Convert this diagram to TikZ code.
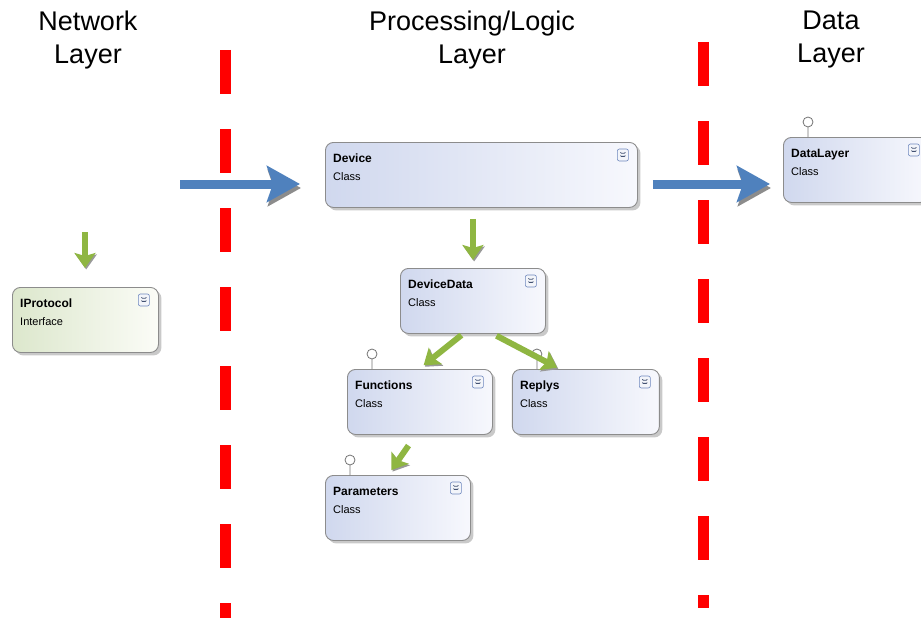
\documentclass[tikz,border=0pt]{standalone}
\usepackage{fontspec}
\setmainfont{Liberation Sans}
\usetikzlibrary{arrows.meta, positioning, shadows}

\definecolor{classleft}{RGB}{208,216,238}
\definecolor{classright}{RGB}{247,248,253}
\definecolor{ifaceleft}{RGB}{220,231,204}
\definecolor{ifaceright}{RGB}{251,252,247}
\definecolor{boxborder}{RGB}{140,140,140}
\definecolor{iconblue}{RGB}{110,135,190}
\definecolor{flowblue}{RGB}{79,129,189}
\definecolor{depgreen}{RGB}{143,182,66}
\definecolor{layerred}{RGB}{255,0,0}

\tikzset{
  classbox/.style = {rectangle, rounded corners=8pt, draw=boxborder, line width=0.9pt, minimum width=145pt, minimum height=65pt, inner sep=0pt, anchor=north west, left color=classleft, right color=classright, drop shadow={shadow xshift=3pt, shadow yshift=-3pt, opacity=0.3, fill=black!70}},
  ifacebox/.style = {classbox, left color=ifaceleft, right color=ifaceright},
  boxtext/.style = {anchor=north west, align=left, inner sep=0pt, font=\fontsize{11}{18}\selectfont},
  expander/.style = {rectangle, rounded corners=2pt, draw=iconblue, line width=0.6pt, fill=iconblue!8, minimum width=11pt, minimum height=12pt, inner sep=0pt,
    path picture={
      \draw[iconblue!60!black, line width=0.8pt] ([shift={(-2.5pt,2.6pt)}]path picture bounding box.center) -- ++(2.5pt,-2pt) -- ++(2.5pt,2pt);
      \draw[iconblue!60!black, line width=0.8pt] ([shift={(-2.5pt,-0.6pt)}]path picture bounding box.center) -- ++(2.5pt,-2pt) -- ++(2.5pt,2pt);
    }},
  lollipop/.style = {draw=black!55, line width=0.8pt, fill=white},
  layerline/.style = {draw=layerred, line width=11pt, dash pattern=on 44pt off 35pt},
  heading/.style = {align=center, anchor=north, inner sep=0pt, font=\fontsize{27}{33}\selectfont},
  flow/.style = {draw=flowblue, line width=9pt, -{Stealth[length=33pt, width=36pt, inset=6pt]},
    preaction={draw=black!45, transform canvas={shift={(1pt,-4pt)}}}},
  dep/.style = {draw=depgreen, line width=6pt, -{Stealth[length=15pt, width=21pt, inset=3pt]},
    preaction={draw=black!40, transform canvas={shift={(1.2pt,-1.5pt)}}}}
}

\begin{document}
\begin{tikzpicture}[x=1pt, y=-1pt]
\useasboundingbox (0,0) rectangle (921,618);
\clip (0,0) rectangle (921,618);

% Layer headings
\node[heading] (net-head) at (88,11) {Network\\Layer};
\node[heading] (logic-head) at (472,11) {Processing/Logic\\Layer};
\node[heading] (data-head) at (831,11) {Data\\Layer};

% Layer borders
\coordinate (leftcut-top) at (225.5,50);
\coordinate (leftcut-bot) at (225.5,618);
\coordinate (rightcut-top) at (703,42);
\coordinate (rightcut-bot) at (703,608);
\draw[layerline] (leftcut-top) -- (leftcut-bot);
\draw[layerline] (rightcut-top) -- (rightcut-bot);

% Classes
\node[classbox, minimum width=312pt] (device) at (325,142) {};
\node[classbox] (datalayer) at (783,137) {};
\node[ifacebox, minimum width=146pt] (iprotocol) at (12,287) {};
\node[classbox] (devicedata) at (400,268) {};
\node[classbox] (functions) at (347,369) {};
\node[classbox, minimum width=147pt, right=19pt of functions.north east, anchor=north west] (replys) {};
\node[classbox] (parameters) at (325,475) {};

\foreach \n/\t/\k in {device/Device/Class, datalayer/DataLayer/Class, iprotocol/IProtocol/Interface, devicedata/DeviceData/Class, functions/Functions/Class, replys/Replys/Class, parameters/Parameters/Class}
  \node[boxtext] (\n-text) at ([shift={(8pt,-12pt)}]\n.north west) {{\fontsize{12}{18}\selectfont\bfseries \t}\\\k};

\foreach \n in {device, datalayer, iprotocol, devicedata, functions, replys, parameters}
  \node[expander] (\n-exp) at ([shift={(-15pt,-13pt)}]\n.north east) {};

\foreach \n in {datalayer, functions, replys, parameters}
  \draw[lollipop] ([xshift=25pt]\n.north west) -- ++(0pt,10pt) ++(0pt,5pt) circle[radius=5pt];

% Data flow
\coordinate (netin) at (180,184);
\draw[flow, shorten >=25pt] (netin) -- (netin -| device.west);
\draw[flow, shorten <=15pt, shorten >=13pt] (netin -| device.east) -- (netin -| datalayer.west);

% Dependencies
\coordinate (ipin) at (85,232);
\draw[dep, shorten >=19pt] (ipin) -- (ipin |- iprotocol.north);
\draw[dep, shorten <=11pt, shorten >=8pt] (device.south -| devicedata.north) -- (devicedata.north);
\draw[dep, shorten <=2pt, shorten >=6pt] ([xshift=-10pt]devicedata.south) -- ([xshift=-1pt]functions.north);
\draw[dep, shorten <=4pt, shorten >=3pt] ([xshift=20pt]devicedata.south) -- ([xshift=-26pt]replys.north);
\draw[dep, shorten <=13pt, shorten >=6pt] ([xshift=-4pt]functions.south) -- ([xshift=-10pt]parameters.north);

\end{tikzpicture}
\end{document}
